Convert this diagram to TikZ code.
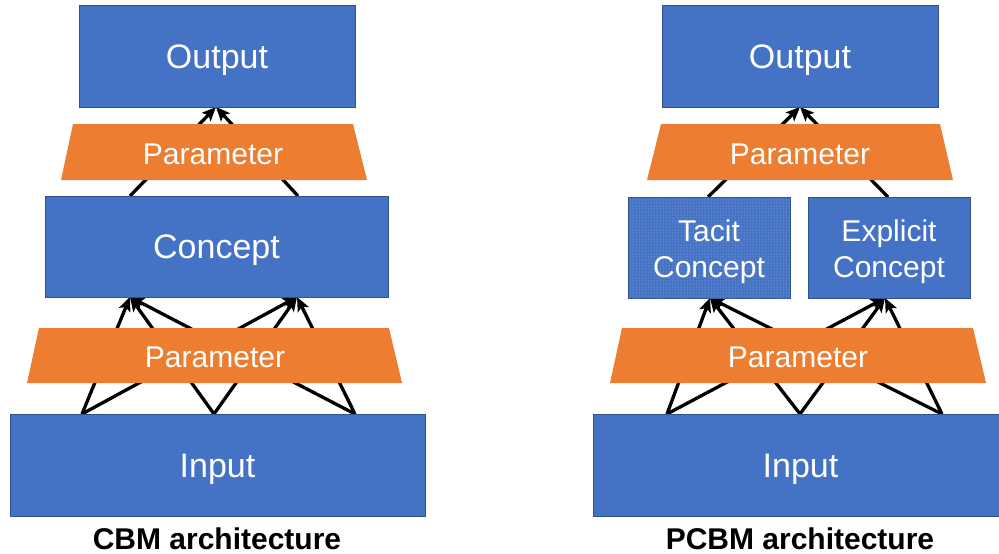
\documentclass[tikz,border=0pt]{standalone}
\usepackage{fontspec}
\setmainfont{Liberation Sans}
\usetikzlibrary{arrows.meta,patterns}
\definecolor{boxblue}{RGB}{68,114,196}
\definecolor{boxedge}{RGB}{47,82,143}
\definecolor{paramorange}{RGB}{237,125,49}
\definecolor{dotblue}{RGB}{170,195,235}

\tikzset{
  block/.style={draw=boxedge, line width=0.8pt, fill=boxblue, text=white,
    font=\fontsize{34}{40}\selectfont, inner sep=0pt,
    text height=24.5pt, text depth=0pt},
  smallblock/.style={draw=boxedge, line width=0.8pt, fill=boxblue, text=white,
    font=\fontsize{30}{36}\selectfont, inner sep=0pt, align=center},
  param/.style={fill=paramorange},
  ptext/.style={text=white, font=\fontsize{30}{36}\selectfont,
    text height=21.6pt, text depth=0pt},
  link/.style={line width=3.3pt, -{Stealth[length=14pt,width=12pt,inset=3pt]}},
  caption/.style={font=\fontsize{30}{36}\selectfont\bfseries, anchor=base}
}

\begin{document}
\begin{tikzpicture}[x=1pt,y=-1pt]
    \useasboundingbox (0,0) rectangle (999,554);
    \clip (0,0) rectangle (999,554);

    % CBM
    \coordinate (inLa) at (82,414);
    \coordinate (inLb) at (214,414);
    \coordinate (inLc) at (355,414);
    \coordinate (conLa) at (130,297);
    \coordinate (conLb) at (297,297);
    \coordinate (conLtopa) at (130,196);
    \coordinate (conLtopb) at (298,196);
    \coordinate (outLbot) at (216,107);
    \foreach \s in {inLa,inLb,inLc}
        \foreach \t in {conLa,conLb}
            \draw[link] (\s) -- (\t);
    \foreach \s in {conLtopa,conLtopb}
        \draw[link] (\s) -- (outLbot);

    \fill[param] (73,124) -- (353,124) -- (367,180) -- (61,180) -- cycle;
    \node[ptext] (parTL) at (213,154) {Parameter};
    \fill[param] (39,328) -- (389,328) -- (402,383) -- (27,383) -- cycle;
    \node[ptext] (parBL) at (215,357) {Parameter};

    \node[block, minimum width=276pt, minimum height=102pt] (outL) at (217,56) {Output};
    \node[block, minimum width=343pt, minimum height=101pt] (conL) at (216.5,246.5) {Concept};
    \node[block, minimum width=415pt, minimum height=102pt] (inL) at (217.5,465) {Input};
    \node[caption] (capL) at (217,549) {CBM architecture};

    % PCBM
    \coordinate (inRa) at (667,414);
    \coordinate (inRb) at (800,414);
    \coordinate (inRc) at (942,414);
    \coordinate (tacRbot) at (710,298);
    \coordinate (expRbot) at (885,298);
    \coordinate (tacRtop) at (708,197);
    \coordinate (expRtop) at (888,197);
    \coordinate (outRbot) at (800,107);
    \foreach \s in {inRa,inRb,inRc}
        \foreach \t in {tacRbot,expRbot}
            \draw[link] (\s) -- (\t);
    \foreach \s in {tacRtop,expRtop}
        \draw[link] (\s) -- (outRbot);

    \fill[param] (661,124) -- (940,124) -- (953,180) -- (647,180) -- cycle;
    \node[ptext] (parTR) at (800,154) {Parameter};
    \fill[param] (622,328) -- (973,328) -- (986,383) -- (610,383) -- cycle;
    \node[ptext] (parBR) at (798,357) {Parameter};

    \node[block, minimum width=276pt, minimum height=102pt] (outR) at (800,56) {Output};
    \node[smallblock, minimum width=162pt, minimum height=101pt,
        postaction={pattern=dots, pattern color=dotblue}] (tacR) at (709,247.5) {};
    \node[text=white, font=\fontsize{30}{36}\selectfont, align=center] (tacRtext) at (709,251.5) {Tacit\\Concept};
    \node[smallblock, minimum width=162pt, minimum height=101pt] (expR) at (889,247.5) {};
    \node[text=white, font=\fontsize{30}{36}\selectfont, align=center] (expRtext) at (889,251.5) {Explicit\\Concept};
    \node[block, minimum width=415pt, minimum height=102pt] (inR) at (800.5,465) {Input};
    \node[caption] (capR) at (800,549) {PCBM architecture};
\end{tikzpicture}
\end{document}
